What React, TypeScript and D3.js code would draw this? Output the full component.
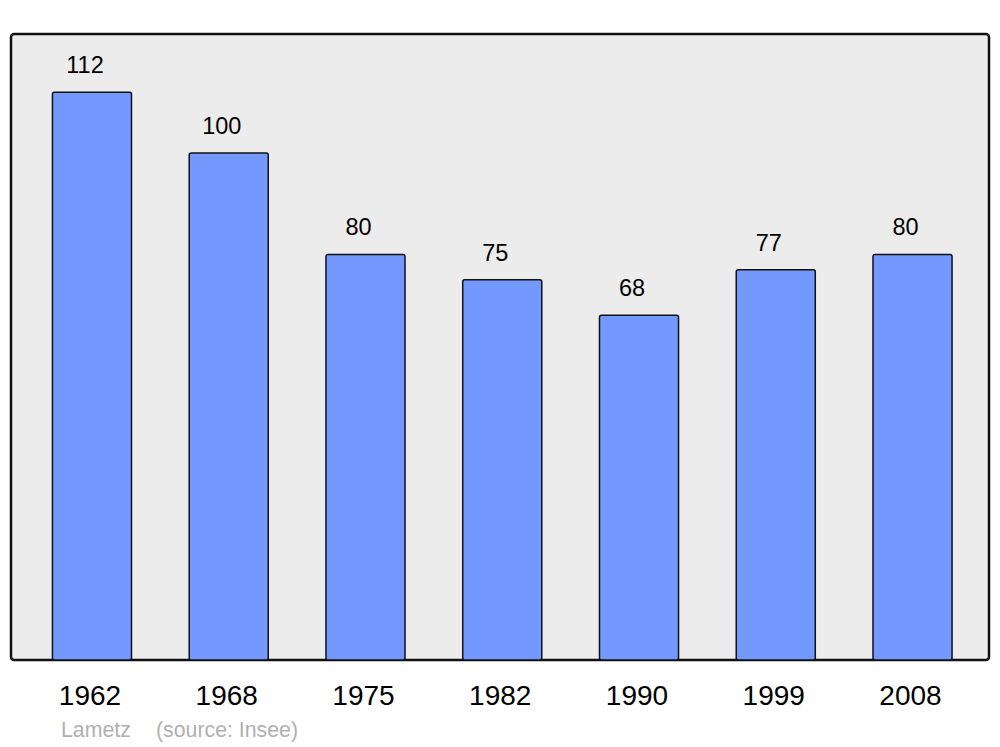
import React from "react";
import * as d3 from "d3";

const years = ["1962", "1968", "1975", "1982", "1990", "1999", "2008"];
const population = [112, 100, 80, 75, 68, 77, 80];
const commune = "Lametz";
const sourceLabel = "(source: Insee)";

export default function App() {
  const W = 1000;
  const H = 747;
  const frame = { left: 11, top: 34, right: 989, bottom: 660 };
  const x = d3.scaleBand<string>().domain(years).range([23.6, 980.9]).paddingInner(0.422).paddingOuter(0.211);
  const y = d3.scaleLinear().domain([0, 123.5]).range([frame.bottom, frame.top]);
  const font = "'Liberation Sans', Arial, sans-serif";
  return (
    <svg width={W} height={H} style={{ position: "absolute", left: 0, top: 0, background: "#fff" }} fontFamily={font}>
      <rect x={frame.left} y={frame.top} width={frame.right - frame.left} height={frame.bottom - frame.top}
        fill="#ececec" stroke="#111" strokeWidth={2.5} rx={3} />
      {years.map((yr, i) => {
        const v = population[i];
        const bx = x(yr)!;
        const bw = x.bandwidth();
        return (
          <g key={yr}>
            <rect x={bx} y={y(v)} width={bw} height={y(0) - y(v)} fill="#7399ff" stroke="#111" strokeWidth={1.5} rx={2} />
            <text x={bx + bw / 2 - 7} y={y(v) - 19} textAnchor="middle" fontSize={23.5} fill="#000">{v}</text>
            <text x={bx + bw / 2 - 2} y={705} textAnchor="middle" fontSize={28} fill="#000">{yr}</text>
          </g>
        );
      })}
      <text x={61} y={737} fontSize={21.3} fill="#b0b0b0">{commune}</text>
      <text x={156} y={737} fontSize={21.3} fill="#b0b0b0">{sourceLabel}</text>
    </svg>
  );
}
